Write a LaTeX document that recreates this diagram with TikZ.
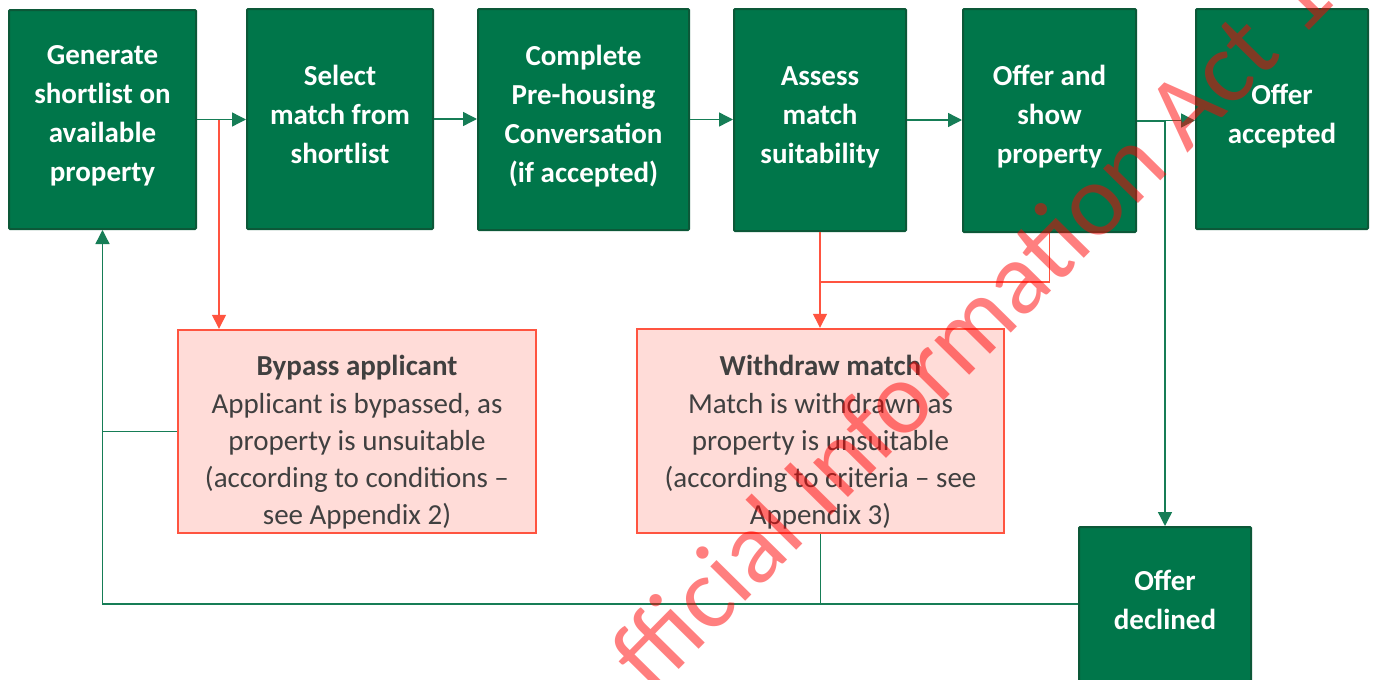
\documentclass[tikz,border=0pt]{standalone}
\usepackage{fontspec}
\setmainfont{Carlito}
\usetikzlibrary{arrows.meta,calc}
\definecolor{gfill}{RGB}{0,118,74}
\definecolor{gborder}{RGB}{12,88,56}
\definecolor{pfill}{RGB}{255,220,216}
\definecolor{pborder}{RGB}{255,84,64}
\definecolor{gline}{RGB}{22,125,86}
\definecolor{rline}{RGB}{255,84,64}
\definecolor{ptext}{RGB}{64,64,64}
\begin{document}
\begin{tikzpicture}[x=0.5pt,y=-0.5pt,
  gbox/.style={draw=gborder, line width=1pt, fill=gfill, inner sep=0pt, rounded corners=0.5pt},
  gtext/.style={text=white, font=\fontsize{14.5pt}{19.5pt}\selectfont\bfseries, align=center, inner sep=0pt},
  pbox/.style={draw=pborder, line width=1.2pt, fill=pfill, inner sep=0pt},
  ptxt/.style={text=ptext, font=\fontsize{14.5pt}{18.6pt}\selectfont, align=center, inner sep=0pt},
  gconn/.style={draw=gline, line width=0.7pt},
  garr/.style={gconn, -{Triangle[length=7pt,width=7pt]}},
  rconn/.style={draw=rline, line width=0.65pt},
  rarr/.style={rconn, -{Triangle[length=7pt,width=7pt]}},
  wm/.style={rotate=45.4, text=red, text opacity=0.5, font=\fontsize{51.3pt}{62pt}\selectfont, inner sep=0pt}
]
\useasboundingbox (0,0) rectangle (1373,680);
\clip (0,0) rectangle (1373,680);
\fill[white] (0,0) rectangle (1373,680);

% green process boxes
\node[gbox, minimum width=93.5pt, minimum height=109.5pt] (gen) at (102.5,119.5) {};
\node[gbox, minimum width=93pt, minimum height=110pt] (sel) at (340,119) {};
\node[gbox, minimum width=105.5pt, minimum height=110.5pt] (comp) at (583.5,119.5) {};
\node[gbox, minimum width=86pt, minimum height=111pt] (ass) at (820,120) {};
\node[gbox, minimum width=86.5pt, minimum height=111.5pt] (off) at (1049.5,120.5) {};
\node[gbox, minimum width=86pt, minimum height=110pt] (acc) at (1282,119) {};
\node[gbox, minimum width=86pt, minimum height=77pt] (dec) at (1165,604) {};

% pink outcome boxes
\node[pbox, minimum width=179pt, minimum height=101.5pt] (byp) at (357,431.5) {};
\node[pbox, minimum width=183.5pt, minimum height=102pt] (wd) at (820.5,431) {};

% texts
\node[gtext] (genT) at ([yshift=1.75pt]gen.center) {Generate\\shortlist on\\available\\property};
\node[gtext] (selT) at ([yshift=2.25pt]sel.center) {Select\\match from\\shortlist};
\node[gtext] (compT) at ([yshift=1.75pt]comp.center) {Complete\\Pre-housing\\Conversation\\(if accepted)};
\node[gtext] (assT) at ([yshift=1.5pt]ass.center) {Assess\\match\\suitability};
\node[gtext] (offT) at ([yshift=2pt]off.center) {Offer and\\show\\property};
\node[gtext] (accT) at ([yshift=1.5pt]acc.center) {Offer\\accepted};
\node[gtext] (decT) at ([yshift=2pt]dec.center) {Offer\\declined};
\node[ptxt] (bypT) at ([yshift=-5.5pt]byp.center) {\textbf{Bypass applicant}\\Applicant is bypassed, as\\property is unsuitable\\(according to conditions –\\see Appendix 2)};
\node[ptxt] (wdT) at ([yshift=-5.75pt]wd.center) {\textbf{Withdraw match}\\Match is withdrawn as\\property is unsuitable\\(according to criteria – see\\Appendix 3)};

% main flow
\draw[garr] (gen.east) -- (gen.east -| sel.west);
\draw[garr] (sel.east) -- (sel.east -| comp.west);
\draw[garr] (comp.east) -- (comp.east -| ass.west);
\draw[garr] (ass.east) -- (ass.east -| off.west);
\draw[garr] (off.east) -- (off.east -| acc.west);
\draw[garr] ([yshift=-0.5pt]off.east) -| (dec.north);

% red branches
\path (gen.east) ++(22,0) coordinate (rsplit);
\draw[rarr] (rsplit) -- (rsplit |- byp.north);
\draw[rarr] (ass.south) -- (ass.south |- wd.north);
\path (ass.south) ++(0,50) coordinate (rjoin);
\draw[rconn] (off.south) |- (rjoin);

% return loops
\draw[gconn] (byp.west) -- (byp.west -| gen.south);
\draw[garr] (dec.west) -| (gen.south);
\draw[gconn] (wd.south) -- (wd.south |- dec.west);

% watermark (only its visible part)
\coordinate (wmP) at (808.5,538);
\node[wm, anchor=base east] (wmA) at (wmP) {fficial};
\node[wm, anchor=base west] (wmB) at (wmP) {\ Information Act 1982};
\end{tikzpicture}
\end{document}
